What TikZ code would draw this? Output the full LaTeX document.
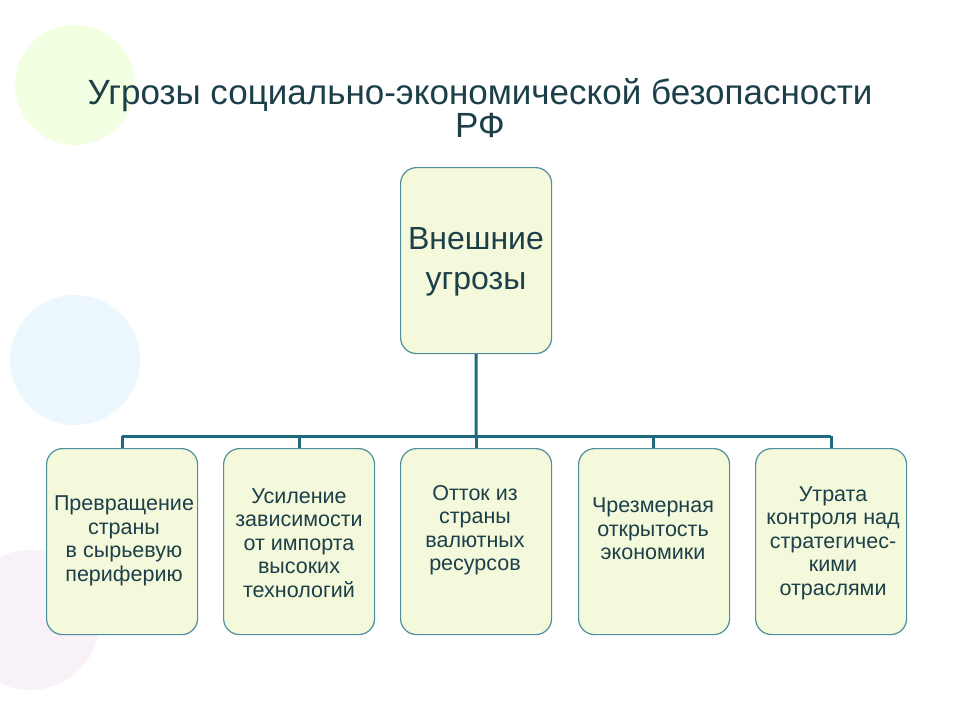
\documentclass[tikz,border=0pt]{standalone}
\usepackage{fontspec}
\setmainfont{Liberation Sans}
\definecolor{boxfill}{HTML}{F3F9DA}
\definecolor{boxline}{HTML}{4E8F9E}
\definecolor{conn}{HTML}{1F6A7C}
\definecolor{txt}{HTML}{1C3F4A}
\begin{document}
\begin{tikzpicture}[x=1pt,y=-1pt,
  box/.style={draw=boxline,line width=1.2pt,fill=boxfill,rounded corners=16pt,minimum width=151pt,minimum height=186pt,anchor=north west,inner sep=0pt},
  lbl/.style={text=txt,font=\fontsize{21.5}{23.5}\selectfont,align=center},
  conn/.style={draw=conn,line width=3pt}]
\useasboundingbox (0,0) rectangle (960,720);
\fill[white] (0,0) rectangle (960,720);
% faint background balloons
\fill[green!40!yellow,opacity=0.12] (75,85) circle (60);
\fill[cyan!50,opacity=0.15] (75,360) circle (65);
\fill[violet!40,opacity=0.12] (30,620) circle (70);
\node[text=txt,font=\fontsize{35}{33}\selectfont,align=center] (title) at (480,108) {Угрозы социально-экономической безопасности\\РФ};
\node[box] (top) at (400,167) {};
\node[text=txt,font=\fontsize{32}{40}\selectfont,align=center] at (476,262) {Внешние\\угрозы};
\node[box] (b1) at (46,448) {};
\node[box] (b2) at (223,448) {};
\node[box] (b3) at (400,448) {};
\node[box] (b4) at (578,448) {};
\node[box] (b5) at (755,448) {};
\node[lbl] at (124,541) {Превращение\\страны\\в сырьевую\\периферию};
\node[lbl] at (299,543) {Усиление\\зависимости\\от импорта\\высоких\\технологий};
\node[lbl] at (475,530) {Отток из\\страны\\валютных\\ресурсов};
\node[lbl] at (653,529) {Чрезмерная\\открытость\\экономики};
\node[lbl] at (833,543) {Утрата\\контроля над\\стратегичес-\\кими\\отраслями};
\coordinate (j) at (476,436);
\draw[conn] (top.south) -- (j);
\draw[conn] (122,436) -- (831,436);
\foreach \b/\x in {b1/122,b2/299,b3/476,b4/653,b5/831}
  \draw[conn] (\x,436) -- (\b.north -| {(\x,0)});
\end{tikzpicture}
\end{document}
